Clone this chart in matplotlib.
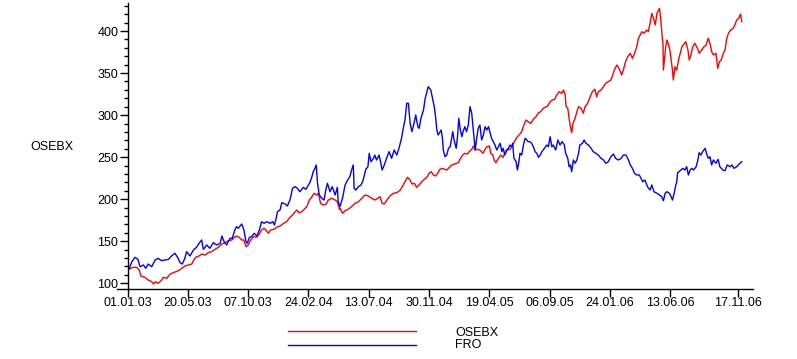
import numpy as np
import matplotlib
matplotlib.use("Agg")
import matplotlib.pyplot as plt
import matplotlib.dates as mdates
from matplotlib.ticker import MultipleLocator
from matplotlib.lines import Line2D
from datetime import datetime, timedelta

plt.rcParams['font.family'] = ['Liberation Sans', 'DejaVu Sans']

start = datetime(2003, 1, 1)

osebx_days = [2, 12, 20, 26, 30, 39, 47, 55, 59, 64, 70, 77, 82, 90, 98, 105, 117, 125, 132, 140,
              148, 152, 157, 165, 171, 179, 186, 194, 202, 210, 218, 225, 233, 241, 247, 251, 258,
              264, 269, 274, 279, 285, 291, 299, 305, 310, 316, 320, 326, 331, 339, 345, 353, 361,
              368, 376, 382, 388, 392, 397, 403, 409, 415, 421, 427, 432, 438, 442, 447, 453, 460,
              465, 473, 481, 486, 491, 492, 498, 504, 511, 519, 527, 535, 543, 550, 558, 566, 573,
              580, 585, 590, 595, 601, 608, 616, 624, 632, 639, 645, 649, 655, 659, 665, 670, 676,
              682, 688, 694, 699, 704, 709, 714, 719, 724, 730, 740, 746, 752, 759, 767, 772, 777,
              782, 788, 792, 798, 802, 806, 811, 817, 824, 829, 833, 839, 842, 847, 850, 854, 860,
              865, 871, 875, 881, 887, 893, 899, 904, 910, 914, 919, 924, 929, 935, 941, 947, 953,
              958, 964, 974, 980, 985, 991, 995, 1001, 1007, 1011, 1015, 1017, 1021, 1024, 1027,
              1030, 1033, 1038, 1042, 1046, 1052, 1057, 1061, 1067, 1073, 1078, 1084, 1088, 1092,
              1098, 1104, 1109, 1115, 1121, 1124, 1129, 1135, 1140, 1146, 1150, 1155, 1160, 1166,
              1171, 1176, 1181, 1185, 1193, 1198, 1204, 1208, 1212, 1216, 1220, 1224, 1228, 1232,
              1234, 1237, 1240, 1242, 1243, 1246, 1248, 1251, 1254, 1258, 1262, 1264, 1266, 1270,
              1274, 1278, 1282, 1286, 1289, 1295, 1300, 1303, 1307, 1311, 1316, 1322, 1326, 1332,
              1337, 1342, 1347, 1351, 1355, 1359, 1365, 1369, 1373, 1377, 1382, 1386, 1390, 1394,
              1399, 1405, 1409, 1413, 1418, 1422, 1425]
osebx_vals = [117.0, 119.0, 119.0, 115.8, 108.7, 107.1, 103.9, 101.9, 99.2, 101.9, 100.0, 103.1,
              107.1, 105.9, 111.1, 112.6, 115.0, 117.8, 120.6, 121.8, 122.9, 126.9, 130.9, 132.5,
              134.8, 133.6, 136.4, 137.6, 140.4, 142.8, 146.7, 148.3, 150.7, 151.5, 154.7, 156.2,
              154.7, 151.5, 151.5, 143.5, 145.5, 151.5, 155.4, 154.7, 158.6, 163.4, 165.4, 163.4,
              159.5, 163.4, 164.2, 166.6, 168.1, 171.3, 173.2, 178.5, 181.2, 185.1, 187.1, 183.9,
              185.1, 188.0, 191.1, 199.0, 203.0, 207.0, 205.0, 207.0, 195.1, 193.1, 194.3, 199.0,
              201.1, 199.0, 197.0, 188.0, 189.2, 183.2, 186.3, 188.0, 191.1, 195.1, 197.0, 201.1,
              205.0, 203.8, 201.1, 199.0, 201.1, 203.0, 195.1, 194.3, 199.0, 203.8, 207.0, 207.7,
              210.9, 216.9, 222.8, 226.0, 222.8, 218.1, 218.9, 214.1, 216.9, 220.8, 223.7, 226.0,
              230.8, 232.7, 228.8, 227.6, 230.8, 235.5, 236.7, 234.7, 237.9, 240.7, 241.9, 243.4,
              248.6, 252.5, 254.6, 253.7, 256.5, 259.3, 263.2, 258.5, 259.3, 258.5, 254.6, 259.3,
              262.4, 263.2, 254.6, 252.5, 246.6, 243.4, 248.6, 252.5, 249.8, 255.3, 258.5, 259.3,
              264.4, 270.4, 274.3, 277.5, 280.3, 288.2, 294.2, 292.1, 290.2, 295.0, 298.1, 302.8,
              304.0, 308.1, 310.8, 315.9, 317.9, 318.8, 323.9, 327.8, 325.9, 329.8, 323.9, 310.0,
              308.1, 296.2, 286.2, 279.1, 290.2, 296.2, 304.0, 310.0, 308.1, 302.1, 310.0, 314.0,
              321.9, 327.8, 330.7, 321.9, 327.8, 329.8, 333.8, 337.8, 339.7, 341.7, 345.6, 353.6,
              359.6, 355.6, 347.7, 353.6, 363.5, 369.4, 373.5, 367.5, 373.5, 381.3, 391.3, 399.2,
              397.3, 401.2, 399.2, 409.1, 421.0, 415.1, 407.1, 421.0, 425.0, 427.0, 413.1, 393.2,
              385.4, 353.6, 369.4, 379.4, 389.3, 385.4, 377.4, 361.6, 353.6, 341.7, 357.5, 353.6,
              365.5, 373.5, 381.3, 383.3, 387.3, 377.4, 365.5, 371.5, 381.3, 385.4, 379.4, 373.5,
              377.4, 381.3, 383.3, 391.3, 385.4, 375.4, 371.5, 373.5, 355.6, 363.5, 365.5, 373.5,
              377.4, 391.3, 397.3, 401.2, 403.2, 407.1, 413.1, 415.1, 420.2, 411.0]

fro_days = [2, 9, 16, 23, 28, 36, 41, 47, 55, 63, 70, 78, 86, 94, 101, 109, 115, 121, 126, 132,
            136, 144, 152, 159, 165, 171, 175, 183, 190, 198, 206, 214, 218, 223, 229, 237, 242,
            248, 252, 256, 264, 269, 274, 277, 282, 287, 293, 299, 305, 310, 316, 322, 330, 336,
            340, 344, 347, 353, 357, 365, 370, 376, 382, 388, 393, 399, 407, 413, 419, 423, 427,
            430, 434, 437, 440, 444, 450, 455, 460, 463, 469, 474, 481, 486, 488, 492, 498, 504,
            510, 515, 519, 523, 525, 529, 535, 541, 546, 552, 557, 560, 564, 570, 573, 577, 583,
            587, 590, 595, 601, 606, 612, 618, 624, 629, 635, 639, 643, 647, 651, 655, 659, 664,
            668, 673, 676, 680, 686, 690, 694, 697, 703, 707, 711, 714, 717, 720, 727, 730, 732,
            736, 740, 744, 748, 752, 754, 757, 762, 765, 768, 771, 775, 778, 782, 786, 790, 794,
            798, 802, 806, 810, 813, 817, 821, 825, 829, 833, 837, 840, 844, 848, 852, 856, 860,
            864, 868, 871, 875, 879, 883, 887, 891, 893, 896, 901, 904, 907, 910, 914, 918, 922,
            926, 929, 933, 937, 941, 945, 949, 953, 957, 961, 964, 972, 976, 980, 984, 987, 993,
            998, 1003, 1008, 1013, 1016, 1021, 1024, 1027, 1030, 1034, 1038, 1042, 1046, 1049,
            1055, 1059, 1063, 1069, 1075, 1080, 1086, 1092, 1098, 1104, 1109, 1115, 1121, 1127,
            1132, 1138, 1145, 1150, 1156, 1162, 1166, 1171, 1176, 1181, 1187, 1195, 1200, 1206,
            1212, 1216, 1221, 1228, 1234, 1239, 1243, 1247, 1251, 1257, 1261, 1264, 1268, 1271,
            1274, 1276, 1282, 1288, 1293, 1297, 1301, 1305, 1309, 1313, 1319, 1323, 1326, 1330,
            1334, 1340, 1343, 1347, 1351, 1355, 1359, 1365, 1370, 1374, 1381, 1386, 1391, 1398,
            1402, 1407, 1413, 1419, 1425]
fro_vals = [116.6, 125.7, 130.9, 128.5, 119.7, 121.8, 117.8, 122.9, 119.7, 127.7, 129.7, 126.9,
            127.7, 128.5, 132.5, 135.7, 130.9, 124.5, 122.9, 129.7, 137.6, 132.5, 139.6, 142.8,
            147.6, 151.5, 140.4, 145.5, 141.6, 148.3, 145.5, 147.6, 156.2, 149.5, 145.5, 153.5,
            153.5, 163.4, 167.3, 165.4, 170.5, 163.4, 149.5, 147.6, 154.7, 155.4, 159.5, 156.2,
            163.4, 173.2, 171.3, 173.2, 171.3, 173.2, 169.3, 177.3, 185.1, 187.2, 195.8, 194.3,
            191.9, 199.0, 213.0, 214.9, 213.0, 208.9, 214.1, 211.8, 216.9, 220.8, 226.7, 232.7,
            236.7, 240.7, 218.9, 205.0, 201.1, 199.0, 213.0, 218.9, 208.9, 214.9, 205.0, 214.1,
            197.0, 191.1, 201.1, 216.9, 222.8, 226.7, 234.7, 240.7, 213.0, 210.9, 214.9, 216.9,
            222.8, 235.5, 238.6, 254.6, 244.6, 248.6, 252.5, 246.6, 252.5, 242.7, 234.7, 240.7,
            249.8, 256.5, 248.6, 258.5, 252.5, 260.5, 272.4, 284.3, 294.2, 314.0, 314.0, 290.2,
            280.3, 290.2, 300.1, 286.2, 284.3, 296.2, 306.1, 320.0, 327.8, 333.8, 329.8, 320.0,
            310.0, 298.1, 282.3, 276.3, 282.3, 272.4, 258.5, 250.5, 252.5, 260.5, 262.4, 274.3,
            280.3, 270.4, 260.5, 274.3, 296.2, 284.3, 274.3, 280.3, 286.2, 280.3, 288.2, 310.0,
            302.1, 280.3, 258.5, 274.3, 284.3, 288.2, 270.4, 276.3, 286.2, 282.3, 286.2, 280.3,
            272.4, 268.4, 264.4, 258.5, 262.4, 266.5, 256.5, 260.5, 252.5, 258.5, 260.5, 264.4,
            262.4, 266.5, 248.6, 244.6, 234.7, 242.7, 254.6, 252.5, 264.4, 272.4, 270.4, 268.4,
            268.4, 266.5, 262.4, 256.5, 254.6, 249.8, 252.5, 256.5, 258.5, 264.4, 262.4, 274.3,
            262.4, 264.4, 258.5, 270.4, 264.4, 268.4, 264.4, 254.6, 248.6, 238.6, 240.7, 232.7,
            246.6, 242.7, 246.6, 254.6, 264.4, 266.5, 270.4, 266.5, 264.4, 260.5, 256.5, 254.6,
            252.5, 248.6, 246.6, 242.7, 244.6, 250.5, 253.7, 248.6, 246.6, 248.6, 252.5, 252.5,
            246.6, 240.7, 236.7, 230.8, 228.8, 228.8, 220.8, 222.8, 214.9, 210.9, 216.9, 208.9,
            207.0, 205.0, 203.0, 198.2, 207.0, 208.9, 207.0, 203.0, 199.0, 207.0, 214.9, 220.8,
            231.5, 233.9, 236.7, 234.7, 238.6, 228.8, 234.7, 236.7, 234.7, 238.6, 246.6, 255.3,
            252.5, 256.5, 260.5, 254.6, 248.6, 250.5, 240.7, 246.6, 242.7, 247.4, 238.6, 234.7,
            233.9, 240.7, 238.6, 240.7, 236.7, 238.6, 241.9, 244.6]

tick_labels = ['01.01.03', '20.05.03', '07.10.03', '24.02.04', '13.07.04', '30.11.04',
               '19.04.05', '06.09.05', '24.01.06', '13.06.06', '17.11.06']
y_ticks = [100, 150, 200, 250, 300, 350, 400]
series_names = ['OSEBX', 'FRO']
series_colors = ['#ff0000', '#0000ff']

W, H = 797, 359
fig = plt.figure(figsize=(W / 100, H / 100), dpi=100)
ax = fig.add_axes([128 / W, 1 - 289 / H, (753 - 128) / W, (289 - 3) / H])

x_o = [start + timedelta(days=d) for d in osebx_days]
x_f = [start + timedelta(days=d) for d in fro_days]
ax.plot(x_o, osebx_vals, color=series_colors[0], lw=1.0)
ax.plot(x_f, fro_vals, color=series_colors[1], lw=1.0)

tick_dates = [datetime.strptime(t, '%d.%m.%y') for t in tick_labels]
ax.set_xticks(tick_dates)
ax.set_xticklabels(tick_labels)
ax.set_xlim(start, start + timedelta(days=1451))
ax.set_ylim(93.2, 433.3)
ax.set_yticks(y_ticks)
ax.yaxis.set_minor_locator(MultipleLocator(10))

for s in ['top', 'right']:
    ax.spines[s].set_visible(False)
for s in ['left', 'bottom']:
    ax.spines[s].set_linewidth(1.0)
    ax.spines[s].set_color('black')

ax.tick_params(axis='x', which='major', length=6, width=1, pad=0, labelsize=9, direction='out')
ax.tick_params(axis='y', which='major', length=6, width=1, pad=1, labelsize=9, direction='out')
ax.tick_params(axis='y', which='minor', length=3, width=1, direction='out')

# axis line extension to the left of the y axis
fig.add_artist(Line2D([117 / W, 128 / W], [1 - 289 / H, 1 - 289 / H], color='black', lw=1.0))

# y label
fig.text(30 / W, 1 - 147 / H, 'OSEBX', fontsize=9, ha='left', va='center')

# legend
legend_y = [331, 345]
label_y = [333.5, 345.5]
for name, col, ly, ty in zip(series_names, series_colors, legend_y, label_y):
    fig.add_artist(Line2D([288 / W, 416 / W], [1 - ly / H, 1 - ly / H], color=col, lw=1.0))
    fig.text(455 / W, 1 - ty / H, name, fontsize=9, ha='left', va='center')

fig.savefig('out.png', dpi=100)
